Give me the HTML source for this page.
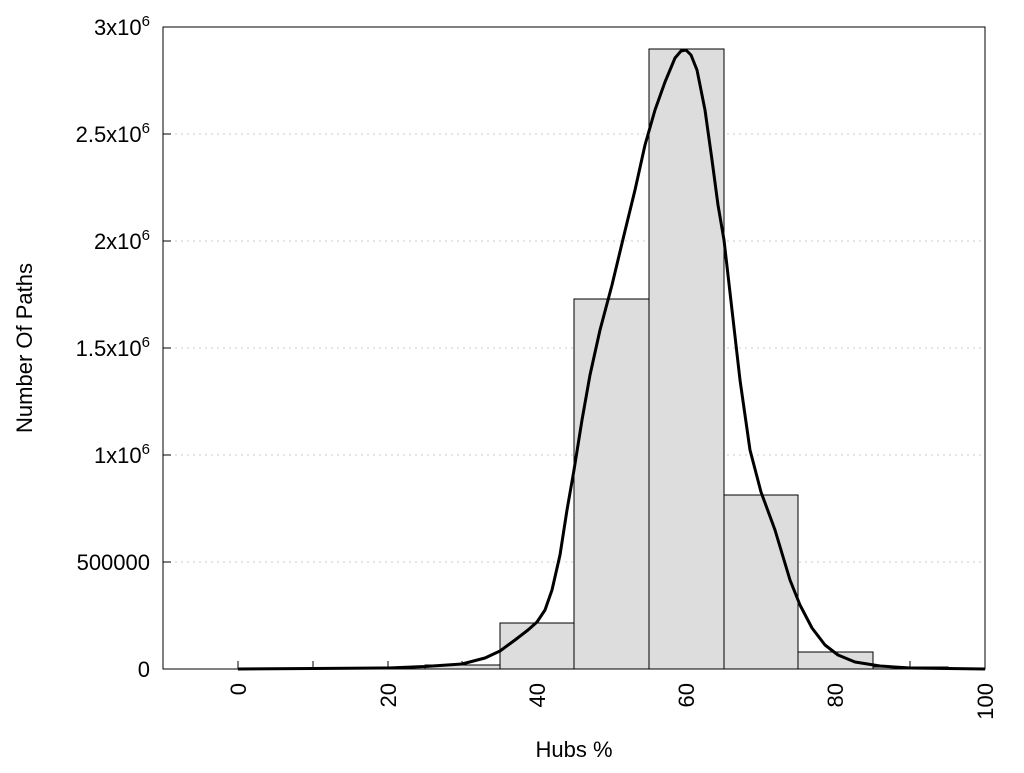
<!DOCTYPE html>
<html><head><style>body{margin:0;background:#fff}</style></head><body>
<svg width="1024" height="768" xmlns="http://www.w3.org/2000/svg" font-family="Liberation Sans, sans-serif" font-size="22">
<rect width="1024" height="768" fill="#fff"/>
<g stroke="#ccc" stroke-dasharray="2,4" stroke-width="1">
<line x1="163" y1="134" x2="985" y2="134"/><line x1="163" y1="241" x2="985" y2="241"/>
<line x1="163" y1="348" x2="985" y2="348"/><line x1="163" y1="455" x2="985" y2="455"/>
<line x1="163" y1="562" x2="985" y2="562"/>
</g>
<g stroke="#000" stroke-width="1">
<line x1="238" y1="669" x2="238" y2="661"/><line x1="313" y1="669" x2="313" y2="661"/><line x1="388" y1="669" x2="388" y2="661"/><line x1="462" y1="669" x2="462" y2="661"/><line x1="537" y1="669" x2="537" y2="661"/><line x1="611" y1="669" x2="611" y2="661"/><line x1="686" y1="669" x2="686" y2="661"/><line x1="761" y1="669" x2="761" y2="661"/><line x1="835" y1="669" x2="835" y2="661"/><line x1="910" y1="669" x2="910" y2="661"/>
<line x1="163" y1="27" x2="171" y2="27"/><line x1="163" y1="134" x2="171" y2="134"/><line x1="163" y1="241" x2="171" y2="241"/><line x1="163" y1="348" x2="171" y2="348"/><line x1="163" y1="455" x2="171" y2="455"/><line x1="163" y1="562" x2="171" y2="562"/>
</g>
<g fill="#dddddd" stroke="#000" stroke-width="1">
<rect x="425" y="665" width="75" height="4"/>
<rect x="500" y="623" width="74" height="46"/>
<rect x="574" y="299" width="75" height="370"/>
<rect x="649" y="49" width="75" height="620"/>
<rect x="724" y="495" width="74" height="174"/>
<rect x="798" y="652" width="75" height="17"/>
<rect x="873" y="667" width="75" height="2"/>
</g>
<polyline fill="none" stroke="#000" stroke-width="3" stroke-linejoin="round" points="238,669 313,668.5 388,668 425,666.5 462,664 485,658 500,651 515,640 528,630 537,622 545,610 552,590 560,555 567,510 574,470 582,420 590,375 600,330 612,285 624,235 635,190 645,145 655,110 665,82 675,58 681,51 686,50 691,55 697,70 705,110 712,160 718,205 724,240 732,310 740,380 750,450 761,492 775,530 790,580 800,605 812,628 825,645 838,655 855,662 880,666 910,668 985,669"/>
<rect x="163" y="27" width="822" height="642" fill="none" stroke="#000" stroke-width="1"/>
<g text-anchor="end">
<text x="150" y="677">0</text>
<text x="150" y="570">500000</text>
<text x="150" y="463">1x10<tspan dy="-9" font-size="15">6</tspan></text>
<text x="150" y="356">1.5x10<tspan dy="-9" font-size="15">6</tspan></text>
<text x="150" y="249">2x10<tspan dy="-9" font-size="15">6</tspan></text>
<text x="150" y="142">2.5x10<tspan dy="-9" font-size="15">6</tspan></text>
<text x="150" y="35">3x10<tspan dy="-9" font-size="15">6</tspan></text>
</g>
<g text-anchor="end">
<text transform="translate(246,683) rotate(-90)">0</text>
<text transform="translate(396,683) rotate(-90)">20</text>
<text transform="translate(545,683) rotate(-90)">40</text>
<text transform="translate(694,683) rotate(-90)">60</text>
<text transform="translate(843,683) rotate(-90)">80</text>
<text transform="translate(993,683) rotate(-90)">100</text>
</g>
<text x="574" y="757" text-anchor="middle">Hubs %</text>
<text transform="translate(32,348) rotate(-90)" text-anchor="middle">Number Of Paths</text>
</svg>
</body></html>
